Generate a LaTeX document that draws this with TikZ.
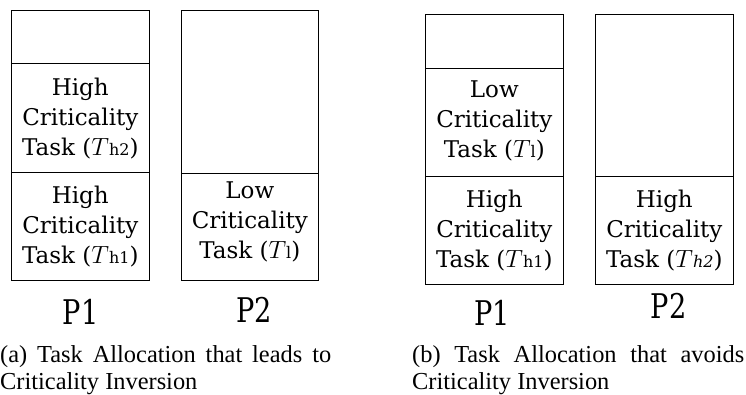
\documentclass[tikz,border=0pt]{standalone}
\usepackage{fontspec}
\usepackage{graphicx}
\setmainfont{Liberation Serif}
\newfontfamily\dvs{DejaVu Serif}
\newcommand{\sbt}[1]{{\fontsize{16}{16}\selectfont #1}}
\begin{document}
\begin{tikzpicture}[x=1pt,y=-1pt,
  cell/.style={draw=black, line width=1.1pt, inner sep=0pt, anchor=north west},
  tasktext/.style={align=center, font=\dvs\fontsize{23}{30}\selectfont, inner sep=0pt},
  plabel/.style={anchor=base, inner sep=0pt, font=\dvs\fontsize{34}{34}\selectfont},
  capline/.style={anchor=base west, inner sep=0pt, font=\fontsize{24.4}{28}\selectfont}]
\useasboundingbox (0,0) rectangle (746,394);
% (a) P1
\node[cell, minimum width=138.5pt, minimum height=53pt] (a1e) at (10.5,10) {};
\node[cell, minimum width=138.5pt, minimum height=109pt] (a1h2) at (10.5,63) {};
\node[cell, minimum width=138.5pt, minimum height=108pt] (a1h1) at (10.5,172) {};
\node[tasktext] (ta1h2) at (a1h2.center) {High\\Criticality\\Task ($T$\sbt{h2})};
\node[tasktext] (ta1h1) at (a1h1.center) {High\\Criticality\\Task ($T$\sbt{h1})};
% (a) P2
\node[cell, minimum width=137.5pt, minimum height=162.5pt] (a2e) at (180.5,10) {};
\node[cell, minimum width=137.5pt, minimum height=107.5pt] (a2l) at (180.5,172.5) {};
\node[tasktext] (ta2l) at ([yshift=5pt]a2l.center) {Low\\Criticality\\Task ($T$\sbt{l})};
% (b) P1
\node[cell, minimum width=137.5pt, minimum height=54pt] (b1e) at (425,14) {};
\node[cell, minimum width=137.5pt, minimum height=107.5pt] (b1l) at (425,68) {};
\node[cell, minimum width=137.5pt, minimum height=108.5pt] (b1h1) at (425,175.5) {};
\node[tasktext] (tb1l) at ([yshift=1pt]b1l.center) {Low\\Criticality\\Task ($T$\sbt{l})};
\node[tasktext] (tb1h1) at (b1h1.center) {High\\Criticality\\Task ($T$\sbt{h1})};
% (b) P2
\node[cell, minimum width=137.5pt, minimum height=162pt] (b2e) at (595,14) {};
\node[cell, minimum width=137.5pt, minimum height=108pt] (b2h2) at (595,176) {};
\node[tasktext] (tb2h2) at (b2h2.center) {High\\Criticality\\Task ($T$\sbt{\itshape h2})};
% processor labels
\node[plabel] (pa1) at (80.5,324.5) {\scalebox{0.8}[1]{P1}};
\node[plabel] (pa2) at (254,322) {\scalebox{0.8}[1]{P2}};
\node[plabel] (pb1) at (492,325) {\scalebox{0.8}[1]{P1}};
\node[plabel] (pb2) at (668.5,318) {\scalebox{0.8}[1]{P2}};
% captions
\node[capline] (ca1) at (0,362) {\makebox[331pt][s]{(a) Task Allocation that leads to}};
\node[capline] (ca2) at (0,389) {Criticality Inversion};
\node[capline] (cb1) at (412,362) {\makebox[332pt][s]{(b) Task Allocation that avoids}};
\node[capline] (cb2) at (412,389) {Criticality Inversion};
\end{tikzpicture}
\end{document}
